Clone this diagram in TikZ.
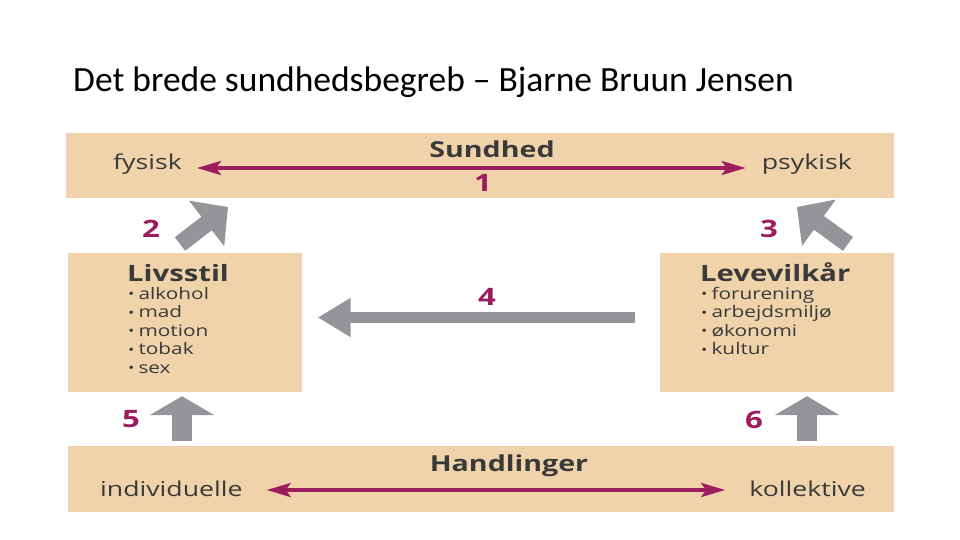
\documentclass[tikz,border=0pt]{standalone}
\usepackage{fontspec}
\setmainfont{Open Sans}[FakeStretch=1.3]
\newfontfamily\titlefont{Carlito}
\usetikzlibrary{arrows.meta,positioning,calc}
\definecolor{panelFill}{HTML}{F0D3AA}
\definecolor{fatC}     {HTML}{939598}
\definecolor{linkC}    {HTML}{9B1D5E}
\definecolor{inkC}     {HTML}{3A3A3A}
\newcommand{\itemdot}{{\fontsize{13}{13}\selectfont\raisebox{0.05ex}{\textbullet}}\hspace{4pt}}
\tikzset{
  panel/.style={fill=panelFill,draw=none,inner sep=0pt},
  titleLbl/.style={font=\titlefont\fontsize{35.5}{38}\selectfont,text=black,inner sep=0pt},
  headLbl/.style={font=\fontsize{22}{24}\selectfont\bfseries,text=inkC,inner sep=0pt},
  boxHead/.style={font=\fontsize{22.5}{24}\selectfont\bfseries,text=inkC,inner sep=0pt},
  sideLbl/.style={font=\fontsize{20.5}{22}\selectfont,text=inkC,inner sep=0pt},
  itemLbl/.style={font=\fontsize{16}{18}\selectfont,text=inkC,inner sep=0pt},
  numLbl/.style={font=\fontsize{24}{26}\selectfont\bfseries,text=linkC,inner sep=0pt},
  linkArrow/.style={{Stealth[length=24pt,width=14pt,inset=5pt]}-{Stealth[length=24pt,width=14pt,inset=5pt]},
                    line width=3.6pt,linkC},
  upArrow/.style={-{Triangle[length=19pt,width=64pt]},line width=20pt,fatC},
  diagArrow/.style={-{Triangle[length=27pt,width=56pt]},line width=17pt,fatC},
  sideArrow/.style={-{Triangle[length=33pt,width=37pt]},line width=11pt,fatC},
}
\begin{document}
\begin{tikzpicture}[x=1pt,y=1pt]
\useasboundingbox (0,0) rectangle (960,-540);

\node[titleLbl,anchor=base west] (title) at (73,-92)
  {Det brede sundhedsbegreb – Bjarne Bruun Jensen};

% the four panels
\node[panel,minimum width=828pt,minimum height=65pt]  (sundhed)     at (480,-165.5) {};
\node[panel,minimum width=234pt,minimum height=139pt] (livsstil)    at (184.5,-322.5) {};
\node[panel,minimum width=234pt,minimum height=139pt] (levevilkaar) at (777,-322.5) {};
\node[panel,minimum width=826pt,minimum height=66pt]  (handlinger)  at (481,-479) {};

% Sundhed
\node[headLbl,anchor=base] (sundhedLbl) at (492,-158) {Sundhed};
\node[sideLbl,anchor=base west] (fysisk)  at (113,-170) {fysisk};
\node[sideLbl,anchor=base east] (psykisk) at (852,-170) {psykisk};
\coordinate (l1) at (0,-168);
\draw[linkArrow,shorten <=15pt,shorten >=16pt] (fysisk.east |- l1) -- (psykisk.west |- l1);
\node[numLbl,anchor=base] (n1) at (483,-191) {1};

% Livsstil and Levevilkaar
\node[boxHead,anchor=base west] (livsstilLbl) at (127,-281) {Livsstil};
\foreach \t [count=\i] in {alkohol,mad,motion,tobak,sex}
  \node[itemLbl,anchor=base west] (liv\i) at (128,{-299-18.5*(\i-1)}) {\itemdot\t};

\node[boxHead,anchor=base west] (levevilkaarLbl) at (700,-281) {Levevilkår};
\foreach \t [count=\i] in {forurening,arbejdsmiljø,økonomi,kultur}
  \node[itemLbl,anchor=base west] (lev\i) at (701,{-299-18.5*(\i-1)}) {\itemdot\t};

% Handlinger
\node[headLbl,anchor=base] (handlingerLbl) at (509,-471) {Handlinger};
\node[sideLbl,anchor=base west] (individuelle) at (100,-496) {individuelle};
\node[sideLbl,anchor=base east] (kollektive)   at (866,-496) {kollektive};
\coordinate (l2) at (0,-490);
\draw[linkArrow,shorten <=24pt,shorten >=24pt] (individuelle.east |- l2) -- (kollektive.west |- l2);

% grey arrows between the panels
\coordinate (t2) at (180,-244);
\coordinate (h2) at (228,-207);
\coordinate (t3) at (848,-244);
\coordinate (h3) at (797,-207);
\draw[diagArrow] (t2) -- (h2);
\draw[diagArrow] (t3) -- (h3);

\coordinate (a4) at (0,-317.5);
\draw[sideArrow,shorten <=25pt,shorten >=16pt] (levevilkaar.west |- a4) -- (livsstil.east |- a4);

\coordinate (c5) at (182,0);
\coordinate (c6) at (807,0);
\draw[upArrow,shorten <=5pt,shorten >=4pt] (handlinger.north -| c5) -- (livsstil.south -| c5);
\draw[upArrow,shorten <=5pt,shorten >=4pt] (handlinger.north -| c6) -- (levevilkaar.south -| c6);

% numbers
\node[numLbl,anchor=base] (n2) at (151,-237) {2};
\node[numLbl,anchor=base] (n3) at (769,-237) {3};
\node[numLbl,anchor=base] (n4) at (487,-305) {4};
\node[numLbl,anchor=base] (n5) at (131,-427) {5};
\node[numLbl,anchor=base] (n6) at (754,-428) {6};

\end{tikzpicture}
\end{document}
